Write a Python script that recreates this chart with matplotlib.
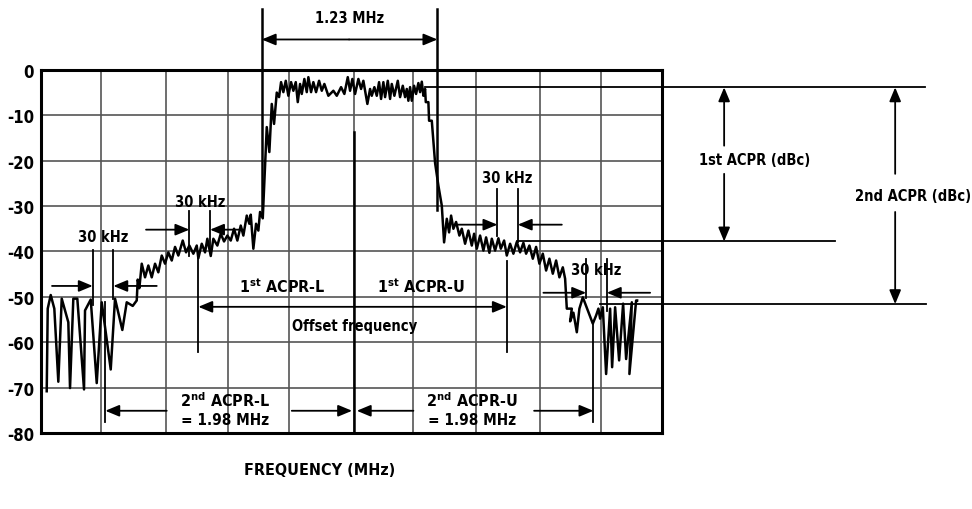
import matplotlib.pyplot as plt

plt.rcParams['font.family'] = ['DejaVu Sans']
plt.rcParams['font.stretch'] = 'condensed'
plt.rcParams['font.weight'] = 'bold'
plt.rcParams['mathtext.fontset'] = 'custom'
plt.rcParams['mathtext.bf'] = 'DejaVu Sans:bold:stretch=condensed'
plt.rcParams['mathtext.rm'] = 'DejaVu Sans:bold:stretch=condensed'

# spectrum trace, x = display bin (0..621 across the screen), y = level in dB
left_noise_x = [5.7, 6.7, 9.7, 13.3, 17.3, 20.7, 27.3, 29, 32.3, 36.3, 43, 44, 49.7, 55.7,
                60.7, 69.7, 74, 81.3, 85.7, 91.7, 95.7]
left_noise_y = [-70.8, -52.6, -49.6, -52.6, -68.7, -50.4, -55.6, -70.1, -50.4, -50.4, -70.4,
                -53, -50.6, -69, -51.2, -66, -50.4, -57.3, -51.2, -52, -50.8]

left_skirt_x = [96.7, 98.3, 100.7, 104, 107.3, 110.7, 114, 117.3, 120.7, 124, 127.3, 130.7,
                134, 137.3, 141.7, 145, 148.3, 152.3, 155.7, 157.3, 160.7, 164, 166.3, 169.7,
                172.3, 176.3, 179.7, 183, 186.3, 189.7, 193, 196.3, 199.7, 202.3, 205.7,
                208.3, 209.7, 212.3, 215, 217.3, 219, 221.7]
left_skirt_y = [-46.2, -48.1, -42.7, -45.7, -43.1, -45.7, -42.7, -44.6, -40.9, -42.7, -40.2,
                -42, -39, -40.9, -37.6, -40.2, -38.7, -40.5, -38.7, -41.5, -38.3, -40.2, -37.2,
                -41, -37.2, -38.7, -36.1, -37.8, -36.5, -37.6, -35, -37.6, -34.3, -36.5, -32.1,
                -33.9, -31.9, -39.4, -33.9, -35.4, -31.3, -32.7]

carrier_x = [225.7, 228.3, 230.7, 233, 235.7, 238, 240, 242.3, 244.7, 247.3, 250, 252.3,
             254.7, 256.7, 259, 260.7, 263.3, 265.7, 267.3, 270, 272.3, 275, 278, 280.7,
             283.3, 287.3, 292.3, 295.7, 300, 303.3, 306.7, 309, 311.3, 314, 317.3, 320,
             322.3, 326.3, 329, 330.7, 333.3, 335.7, 338, 340, 342.3, 344, 346.7, 349,
             350.7, 353.3, 356.7, 359, 361.7, 364, 365.7, 367.3, 369, 370.7, 373, 375,
             377.3, 379, 380.7, 382.3, 384, 384.7, 387.3, 388, 390.7]
carrier_y = [-12.6, -18.1, -7.5, -11.9, -5, -6, -2.7, -4.9, -2.4, -5.7, -2.7, -4.6, -2.7,
             -7.1, -3.1, -5.3, -2, -4.9, -1.6, -4.9, -2.7, -4.9, -2.4, -4.6, -3.1, -5.7,
             -4.6, -5.7, -3.8, -5.3, -1.6, -4.6, -2, -5.3, -2, -4.2, -2.4, -7.5, -4.2, -5.7,
             -3.8, -5.7, -2.7, -6.4, -2.7, -6, -2.4, -6.4, -3.1, -5.7, -2.4, -6, -3.5, -6,
             -4.2, -6.8, -3.8, -6.8, -3.5, -5.3, -2.9, -4.9, -2.6, -5.7, -4.2, -7.1, -7.1,
             -11.2, -11.2]

right_skirt_x = [394, 397.3, 400.7, 403, 405.7, 408, 410, 412.3, 415, 418.3, 420.7, 424,
                 427.3, 430.7, 433, 435.7, 439, 442.3, 445, 448.3, 450.7, 454, 457.3, 459.7,
                 463, 465.7, 469, 472.3, 475.7, 479, 482.3, 485, 488.3, 491.7, 495, 498.3,
                 501.7, 505, 508.3, 511.7, 515, 518.3, 521.7, 524]
right_skirt_y = [-20.5, -25.5, -29.9, -38, -32.8, -35.8, -32.1, -35, -33.5, -36.5, -35,
                 -38.3, -35.4, -38.7, -36.1, -39.4, -36.5, -39.8, -36.9, -40.3, -37.2, -39.8,
                 -37.1, -39.4, -37.6, -40.9, -38.3, -40.5, -37.9, -40.2, -38.1, -40.5, -38.7,
                 -41.6, -39, -42.7, -40.5, -44.2, -41.6, -44.9, -42, -45.7, -43.5, -46]

right_noise_x = [525.7, 530.7, 529, 532.3, 535.7, 538.3, 541.7, 551.7, 555, 557.3, 559,
                 561.7, 565, 569, 571, 574, 578, 582, 585, 590.7, 588.3, 595, 596]
right_noise_y = [-52.6, -52.6, -55.4, -53.5, -57.8, -52.6, -50.1, -55.9, -54.1, -52.6,
                 -54.8, -52.3, -67, -52.6, -65.5, -52.3, -64, -51.5, -63.7, -51.2, -67,
                 -50.8, -50.8]

freq = left_noise_x + left_skirt_x + carrier_x + right_skirt_x + right_noise_x
level = left_noise_y + left_skirt_y + carrier_y + right_skirt_y + right_noise_y

grid_bins = [60, 125, 187, 248, 313, 372, 435, 499, 560]
y_ticks = [0, -10, -20, -30, -40, -50, -60, -70, -80]

fig = plt.figure(figsize=(9.72, 5.10), dpi=100)
ax = fig.add_axes([0.0422, 0.149, 0.639, 0.712])
ax.set_xlim(0, 621)
ax.set_ylim(-80, 0)

for g in grid_bins:
    ax.axvline(g, color='#555555', lw=1.2, zorder=1)
for t in y_ticks[1:-1]:
    ax.axhline(t, color='#555555', lw=1.2, zorder=1)

ax.plot(freq, level, color='black', lw=1.8, zorder=3)

ax.set_xticks([])
ax.set_yticks(y_ticks)
ax.set_yticklabels([str(t) for t in y_ticks], fontsize=12, fontweight='bold')
ax.tick_params(axis='y', length=0, pad=5)
for s in ax.spines.values():
    s.set_linewidth(2.2)


def line(xs, ys, lw=1.3):
    ax.plot(xs, ys, color='black', lw=lw, clip_on=False, zorder=4)


def arrow(x0, y0, x1, y1):
    ax.annotate('', xy=(x1, y1), xytext=(x0, y0), annotation_clip=False,
                arrowprops=dict(arrowstyle='-|>,head_length=0.6,head_width=0.25',
                                color='black', lw=1.3, mutation_scale=14,
                                shrinkA=0, shrinkB=0))


def label(x, y, s, size=10.5, ha='center'):
    ax.text(x, y, s, ha=ha, va='center', fontsize=size, fontweight='bold', clip_on=False)


# carrier bandwidth
line([220.7, 220.7], [13.4, -31.3], lw=1.8)
line([396.3, 396.3], [13.4, -30.8], lw=1.8)
arrow(308, 6.7, 220.7, 6.7)
arrow(308, 6.7, 396.3, 6.7)
label(308, 11.5, '1.23 MHz')

# 30 kHz windows
for xa, xb, top, ya, yb, yarr, xl, xr, yt in [
        (148.3, 169, -31.0, -40.9, -40.1, -35.2, 105, 202, -28.9),
        (51.7, 72.3, -39.6, -51.9, -50.4, -47.6, 11, 115.7, -36.8),
        (456.3, 476.7, -26.2, -36.5, -38.0, -34.1, 414, 520.7, -23.6),
        (545, 565.7, -41.6, -50.2, -53.1, -49.1, 502.3, 609, -44.0)]:
    line([xa, xa], [top, ya])
    line([xb, xb], [top, yb])
    arrow(xl, yarr, xa, yarr)
    arrow(xr, yarr, xb, yarr)
    label((xa + xb) / 2, yt, '30 kHz')

# offset frequency markers
line([157.3, 157.3], [-41.4, -62.2])
line([465.7, 465.7], [-42.1, -62.2])
line([313, 313], [-13.7, -80], lw=1.8)
arrow(313, -52.2, 157.3, -52.2)
arrow(313, -52.2, 465.7, -52.2)
label(241, -47.6, r'1$^{\mathbf{st}}$ ACPR-L', size=11.5)
label(380, -47.6, r'1$^{\mathbf{st}}$ ACPR-U', size=11.5)
label(314, -56.3, 'Offset frequency')

line([64.3, 64.3], [-51.2, -77.5])
line([552.3, 552.3], [-55.9, -77.5])
arrow(125.7, -75.1, 64.3, -75.1)
arrow(250.7, -75.1, 311, -75.1)
arrow(372.3, -75.1, 315.7, -75.1)
arrow(493, -75.1, 552.3, -75.1)
label(184, -72.7, r'2$^{\mathbf{nd}}$ ACPR-L', size=11.5)
label(184, -77.1, '= 1.98 MHz', size=11)
label(431, -72.7, r'2$^{\mathbf{nd}}$ ACPR-U', size=11.5)
label(431, -77.1, '= 1.98 MHz', size=11)

# ACPR reference levels
line([384, 884], [-3.85, -3.85])
line([476, 794], [-37.8, -37.8])
line([559, 885], [-51.6, -51.6])
arrow(683, -16.7, 683, -3.85)
arrow(683, -22.9, 683, -37.8)
label(713, -19.8, '1st ACPR (dBc)')
arrow(854, -22.9, 854, -3.85)
arrow(854, -31.3, 854, -51.6)
label(872, -27.7, '2nd ACPR (dBc)')

label(279, -88.1, 'FREQUENCY (MHz)', size=11.5)

fig.savefig('out.png', dpi=100)
